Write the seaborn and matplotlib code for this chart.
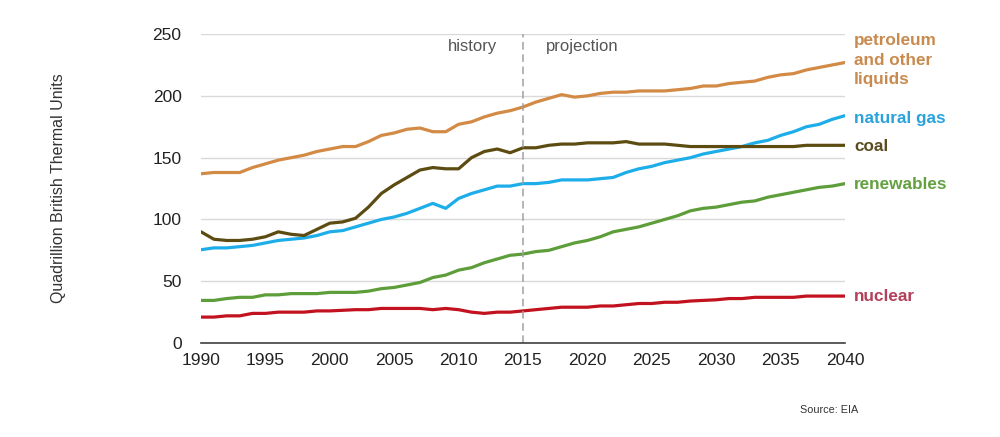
import numpy as np
import pandas as pd
import matplotlib
matplotlib.use("Agg")
import matplotlib.pyplot as plt
import seaborn as sns

years = list(range(1990, 2041))

petroleum = [137, 138, 138, 138, 142, 145, 148, 150, 152, 155,
             157, 159, 159, 163, 168, 170, 173, 174, 171, 171,
             177, 179, 183, 186, 188, 191, 195, 198, 201, 199,
             200, 202, 203, 203, 204, 204, 204, 205, 206, 208,
             208, 210, 211, 212, 215, 217, 218, 221, 223, 225, 227]
natural_gas = [75.5, 77, 77, 78, 79, 81, 83, 84, 85, 87,
               90, 91, 94, 97, 100, 102, 105, 109, 113, 109,
               117, 121, 124, 127, 127, 129, 129, 130, 132, 132,
               132, 133, 134, 138, 141, 143, 146, 148, 150, 153,
               155, 157, 159, 162, 164, 168, 171, 175, 177, 181, 184]
coal = [90, 84, 83, 83, 84, 86, 90, 88, 87, 92,
        97, 98, 101, 110, 121, 128, 134, 140, 142, 141,
        141, 150, 155, 157, 154, 158, 158, 160, 161, 161,
        162, 162, 162, 163, 161, 161, 161, 160, 159, 159,
        159, 159, 159, 159, 159, 159, 159, 160, 160, 160, 160]
renewables = [34.5, 34.5, 36, 37, 37, 39, 39, 40, 40, 40,
              41, 41, 41, 42, 44, 45, 47, 49, 53, 55,
              59, 61, 65, 68, 71, 72, 74, 75, 78, 81,
              83, 86, 90, 92, 94, 97, 100, 103, 107, 109,
              110, 112, 114, 115, 118, 120, 122, 124, 126, 127, 129]
nuclear = [21, 21, 22, 22, 24, 24, 25, 25, 25, 26,
           26, 26.5, 27, 27, 28, 28, 28, 28, 27, 28,
           27, 25, 24, 25, 25, 26, 27, 28, 29, 29,
           29, 30, 30, 31, 32, 32, 33, 33, 34, 34.5,
           35, 36, 36, 37, 37, 37, 37, 38, 38, 38, 38]

series_names = ["petroleum", "natural gas", "coal", "renewables", "nuclear"]
series_labels = ["petroleum\nand other\nliquids", "natural gas", "coal", "renewables", "nuclear"]
line_colors = {"petroleum": "#D38A45", "natural gas": "#1DAEE9", "coal": "#5C4C12",
               "renewables": "#5E9E3A", "nuclear": "#C2121F"}
label_colors = ["#C98A4E", "#2AA3DD", "#5A4C1E", "#62A040", "#B2405A"]
label_y = [229, 182, 159, 128, 38]

df = pd.DataFrame({"year": years, "petroleum": petroleum, "natural gas": natural_gas,
                   "coal": coal, "renewables": renewables, "nuclear": nuclear})
long = df.melt(id_vars="year", var_name="fuel", value_name="value")

sns.set_theme(style="white")
plt.rcParams["font.family"] = ["Liberation Sans", "DejaVu Sans"]

fig = plt.figure(figsize=(10, 4.37), dpi=100)
ax = fig.add_axes([0.201, 0.215, 0.644, 0.707])

sns.lineplot(data=long, x="year", y="value", hue="fuel", palette=line_colors,
             hue_order=series_names, linewidth=2.3, legend=False, ax=ax)

ax.set_xlim(1990, 2040)
ax.set_ylim(0, 250)
ax.set_xticks(range(1990, 2041, 5))
ax.set_yticks(range(0, 251, 50))
ax.yaxis.grid(True, color="#D9D9D9", linewidth=1)
ax.set_axisbelow(True)
for s in ["top", "right", "left"]:
    ax.spines[s].set_visible(False)
ax.spines["bottom"].set_color("#404040")
ax.spines["bottom"].set_linewidth(1.2)
ax.tick_params(axis="x", direction="out", length=5, width=1, color="#404040",
               labelsize=12.5, labelcolor="#222222", pad=2)
ax.tick_params(axis="y", length=0, labelsize=12.5, labelcolor="#222222", pad=14)
ax.set_xlabel("")
ax.set_ylabel("Quadrillion British Thermal Units", fontsize=11.5, color="#333333", labelpad=62)

ax.axvline(2015, ymin=0, ymax=1.0, color="#A0A0A0", linestyle=(0, (5, 3)), linewidth=1.1, clip_on=False)
ax.text(2013.0, 240, "history", ha="right", va="center", fontsize=12, color="#555555")
ax.text(2016.8, 240, "projection", ha="left", va="center", fontsize=12, color="#555555")

for lab, col, yv in zip(series_labels, label_colors, label_y):
    ax.text(2040.7, yv, lab, ha="left", va="center", fontsize=12.3, fontweight="bold",
            color=col, linespacing=1.35, clip_on=False)

fig.text(0.858, 0.062, "Source: EIA", ha="right", va="center", fontsize=7.8, color="#333333")

fig.savefig("out.png", dpi=100)
